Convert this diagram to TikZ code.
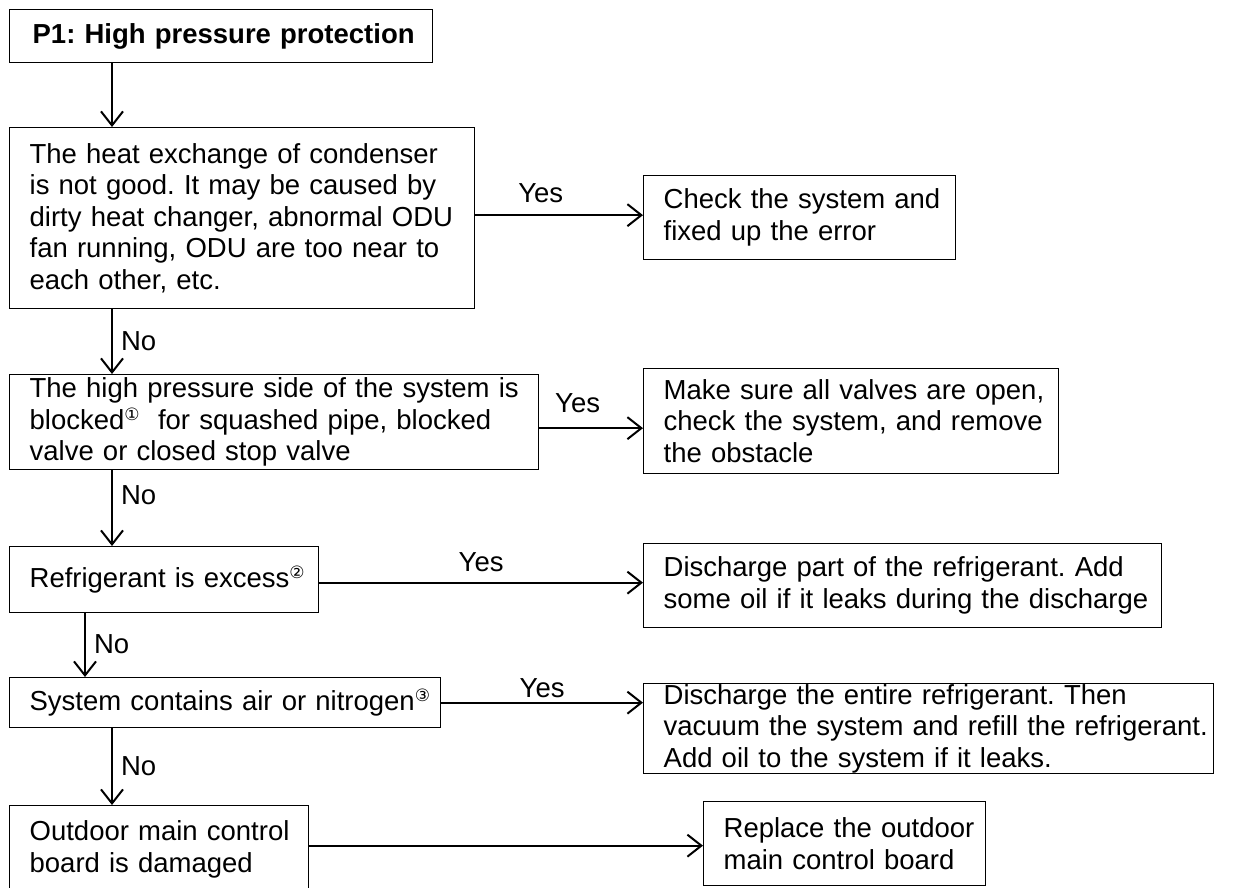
\documentclass[tikz,border=0pt]{standalone}
\usepackage{fontspec}
\setmainfont{Liberation Sans}
\newfontfamily\symfont{DejaVu Sans}
\usetikzlibrary{arrows.meta}
\frenchspacing
\hbadness=10000 \hfuzz=60pt
\newcommand{\cnum}[1]{\raisebox{9pt}{\fontsize{17}{17}\selectfont\symfont #1}}

\tikzset{
  box/.style={draw, line width=1.3pt, anchor=north west, inner xsep=20pt, inner ysep=0pt,
    font=\fontsize{27.5}{31.6}\selectfont, minimum width=#1},
  flow/.style={line width=2pt, -{Straight Barb[length=14pt,width=22pt,line width=2pt]}},
  yes/.style={font=\fontsize{27.5}{27.5}\selectfont, inner sep=2pt},
  no/.style={font=\fontsize{27.5}{27.5}\selectfont, right, inner sep=2pt, xshift=6pt}
}

\begin{document}
\begin{tikzpicture}[x=1pt, y=-1pt]
    \useasboundingbox (0,0) rectangle (1238,887);
    \coordinate (lane) at (112,0);
    \coordinate (lane2) at (85,0);

    % Left column: checks
    \node[box=423pt, font=\bfseries\fontsize{27.5}{27.5}\selectfont, inner xsep=23pt,
      minimum height=53pt, text width=377pt] (title) at (9,9) {\mbox{P1: High pressure protection}};
    \node[box=465pt, minimum height=181pt, text width=425pt] (cond) at (9,127)
      {\mbox{The heat exchange of condenser}\\\mbox{is not good. It may be caused by}\\
       \mbox{dirty heat changer, abnormal ODU}\\\mbox{fan running, ODU are too near to}\\
       \mbox{each other, etc.}};
    \node[box=529pt, minimum height=95pt, text width=489pt] (block) at (9,374)
      {\mbox{The high pressure side of the system is}\\
       \mbox{blocked\cnum{①}\ \ for squashed pipe, blocked}\\\mbox{valve or closed stop valve}};
    \node[box=309pt, minimum height=66pt, text width=269pt] (excess) at (9,546)
      {\mbox{Refrigerant is excess\cnum{②}}};
    \node[box=431pt, minimum height=50pt, text width=391pt] (air) at (9,677)
      {\mbox{System contains air or nitrogen\cnum{③}}};
    \node[box=299pt, minimum height=88pt, text width=259pt] (board) at (9,805)
      {\mbox{Outdoor main control}\\\mbox{board is damaged}};

    % Right column: actions
    \node[box=312pt, minimum height=84pt, text width=272pt] (fix) at (643,175)
      {\mbox{Check the system and}\\\mbox{fixed up the error}};
    \node[box=415pt, minimum height=105pt, text width=375pt] (valve) at (643,368)
      {\mbox{Make sure all valves are open,}\\\mbox{check the system, and remove}\\
       \mbox{the obstacle}};
    \node[box=518pt, minimum height=84pt, text width=478pt] (part) at (643,543)
      {\mbox{Discharge part of the refrigerant. Add}\\
       \mbox{some oil if it leaks during the discharge}};
    \node[box=570pt, minimum height=90pt, text width=530pt] (entire) at (643,683)
      {\mbox{Discharge the entire refrigerant. Then}\\
       \mbox{vacuum the system and refill the refrigerant.}\\\mbox{Add oil to the system if it leaks.}};
    \node[box=282pt, minimum height=84pt, text width=242pt] (replace) at (703,801)
      {\mbox{Replace the outdoor}\\\mbox{main control board}};

    % No branches
    \draw[flow] (title.south -| lane) -- (cond.north -| lane);
    \draw[flow] (cond.south -| lane) -- node[no]{No} (block.north -| lane);
    \draw[flow] (block.south -| lane) -- node[no, pos=0.33]{No} (excess.north -| lane);
    \draw[flow] (excess.south -| lane2) -- node[no, pos=0.48]{No} (air.north -| lane2);
    \draw[flow] (air.south -| lane) -- node[no]{No} (board.north -| lane);

    % Yes branches
    \draw[flow] ([yshift=3pt]cond.east) -- node[yes, pos=0.39, above=9pt]{Yes} ([yshift=3pt]cond.east -| fix.west);
    \draw[flow] ([yshift=-6pt]block.east) -- node[yes, pos=0.37, above=12pt]{Yes} ([yshift=-6pt]block.east -| valve.west);
    \draw[flow] ([yshift=-3pt]excess.east) -- node[yes, pos=0.5, above=8pt]{Yes} ([yshift=-3pt]excess.east -| part.west);
    \draw[flow] (air.east) -- node[yes, pos=0.5, above=2pt]{Yes} (air.east -| entire.west);
    \draw[flow] ([yshift=4pt]board.east) -- ([yshift=4pt]board.east -| replace.west);
\end{tikzpicture}
\end{document}
